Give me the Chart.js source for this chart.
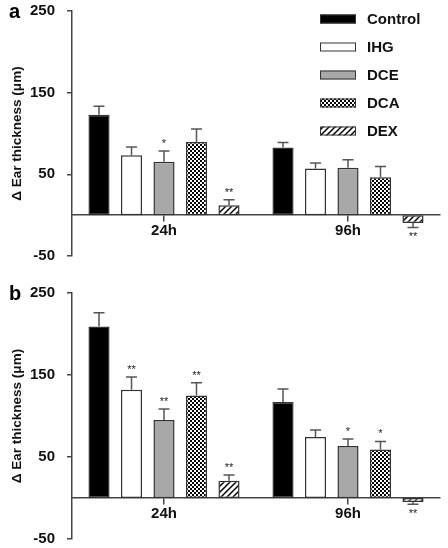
<!DOCTYPE html>
<html>
<head>
<meta charset="utf-8">
<script src="https://cdn.jsdelivr.net/npm/chart.js@4.4.1/dist/chart.umd.min.js"></script>
<style>
  html, body { margin: 0; padding: 0; background: #fff; }
  .panel { position: absolute; left: 0; width: 448px; height: 274px; }
  #panelA { top: 0; }
  #panelB { top: 274px; }
</style>
</head>
<body>
<div class="panel" id="panelA"><canvas id="chartA" width="448" height="274"></canvas></div>
<div class="panel" id="panelB"><canvas id="chartB" width="448" height="274"></canvas></div>
<script>
// --- data ---
const categories = ['24h', '96h'];
const seriesNames = ['Control', 'IHG', 'DCE', 'DCA', 'DEX'];
const yTicks = [-50, 50, 150, 250];
const yTitle = '\u0394 Ear thickness (\u03bcm)';

// panel a
const aControl = [123, 83];
const aIHG = [73.5, 57];
const aDCE = [65.5, 58];
const aDCA = [89.5, 46.5];
const aDEX = [12, -9.5];
const aControlErr = [10.5, 6];
const aIHGErr = [10, 7];
const aDCEErr = [13, 10];
const aDCAErr = [16, 13];
const aDEXErr = [7, 5.5];
const aControlSig = ['', ''];
const aIHGSig = ['', ''];
const aDCESig = ['*', ''];
const aDCASig = ['', ''];
const aDEXSig = ['**', '**'];

// panel b
const bControl = [209, 117];
const bIHG = [132, 74.5];
const bDCE = [95, 63.5];
const bDCA = [125, 59];
const bDEX = [21, -5];
const bControlErr = [17, 16];
const bIHGErr = [15.5, 8.5];
const bDCEErr = [13.5, 8.5];
const bDCAErr = [15.5, 10];
const bDEXErr = [7, 2.5];
const bControlSig = ['', ''];
const bIHGSig = ['**', ''];
const bDCESig = ['**', '*'];
const bDCASig = ['**', '*'];
const bDEXSig = ['**', '**'];

const FONT = '"Liberation Sans", Arial, Helvetica, sans-serif';
const AXIS = '#444';
const EDGE = '#333';

// fill patterns for DCA (checks) and DEX (hatch)
function checkPattern() {
    const c = document.createElement('canvas');
    c.width = 4; c.height = 4;
    const g = c.getContext('2d');
    g.fillStyle = '#fff'; g.fillRect(0, 0, 4, 4);
    g.fillStyle = '#000';
    g.fillRect(0, 0, 2, 2);
    g.fillRect(2, 2, 2, 2);
    return g.createPattern(c, 'repeat');
}
function hatchPattern() {
    const c = document.createElement('canvas');
    c.width = 6; c.height = 6;
    const g = c.getContext('2d');
    g.fillStyle = '#fff'; g.fillRect(0, 0, 6, 6);
    g.strokeStyle = '#000';
    g.lineWidth = 1.5;
    g.beginPath();
    g.moveTo(-1, 7); g.lineTo(7, -1);
    g.moveTo(-4, 4); g.lineTo(4, -4);
    g.moveTo(2, 10); g.lineTo(10, 2);
    g.stroke();
    return g.createPattern(c, 'repeat');
}
const fills = ['#000', '#fff', '#a8a8a8', checkPattern(), hatchPattern()];

function makeDatasets(values, errs, sigs) {
    return seriesNames.map((name, i) => ({
        label: name,
        data: values[i],
        errors: errs[i],
        marks: sigs[i],
        backgroundColor: fills[i],
        borderColor: EDGE,
        borderWidth: 1.5,
        borderSkipped: false,
        categoryPercentage: 0.883,
        barPercentage: 0.65
    }));
}

// error bars + significance stars
const errorBars = {
    id: 'errorBars',
    afterDatasetsDraw(chart) {
        const ctx = chart.ctx;
        const y = chart.scales.y;
        ctx.save();
        chart.data.datasets.forEach((ds, di) => {
            const meta = chart.getDatasetMeta(di);
            meta.data.forEach((bar, j) => {
                const v = ds.data[j];
                const dir = v < 0 ? -1 : 1;
                const end = y.getPixelForValue(v + dir * ds.errors[j]);
                ctx.strokeStyle = '#555';
                ctx.lineWidth = 1.5;
                ctx.beginPath();
                ctx.moveTo(bar.x, bar.y);
                ctx.lineTo(bar.x, end);
                ctx.moveTo(bar.x - 5.5, end);
                ctx.lineTo(bar.x + 5.5, end);
                ctx.stroke();
                if (ds.marks[j]) {
                    ctx.fillStyle = '#222';
                    ctx.font = '11px ' + FONT;
                    ctx.textAlign = 'center';
                    ctx.textBaseline = 'middle';
                    ctx.fillText(ds.marks[j], bar.x, dir > 0 ? end - 7 : end + 10);
                }
            });
        });
        ctx.restore();
    }
};

// panel letter and (optional) legend box
const extras = {
    id: 'extras',
    afterDraw(chart, args, opts) {
        const ctx = chart.ctx;
        ctx.save();
        ctx.fillStyle = '#000';
        ctx.font = 'bold 20px ' + FONT;
        ctx.textAlign = 'left';
        ctx.textBaseline = 'middle';
        ctx.fillText(opts.letter, opts.letterX, opts.letterY);
        if (opts.legend) {
            chart.data.datasets.forEach((ds, i) => {
                const cy = 19 + i * 28;
                ctx.fillStyle = ds.backgroundColor;
                ctx.fillRect(320, cy - 4.5, 36, 9);
                ctx.strokeStyle = EDGE;
                ctx.lineWidth = 1;
                ctx.strokeRect(320.5, cy - 4, 35, 8);
                ctx.fillStyle = '#111';
                ctx.font = 'bold 15px ' + FONT;
                ctx.fillText(ds.label, 367, cy + 1);
            });
        }
        ctx.restore();
    }
};

function buildChart(canvasId, datasets, padTop, padBottom, letter, letterY, legend) {
    return new Chart(document.getElementById(canvasId), {
        type: 'bar',
        data: { labels: categories, datasets: datasets },
        plugins: [errorBars, extras],
        options: {
            responsive: false,
            animation: false,
            layout: { padding: { top: padTop, bottom: padBottom, left: 0, right: 8 } },
            plugins: {
                legend: { display: false },
                tooltip: { enabled: false },
                extras: { letter: letter, letterX: 9, letterY: letterY, legend: legend }
            },
            scales: {
                x: {
                    position: { y: 0 },
                    border: { color: AXIS, width: 1.5 },
                    grid: { offset: false, drawOnChartArea: false, drawTicks: true, tickLength: 6, color: AXIS, lineWidth: 1.5 },
                    ticks: { color: '#111', font: { family: FONT, size: 15, weight: 'bold' }, padding: 1 },
                    afterFit: s => { s.paddingTop = 0; s.paddingBottom = 0; }
                },
                y: {
                    min: -50,
                    max: 250,
                    afterBuildTicks: s => { s.ticks = yTicks.map(v => ({ value: v })); },
                    afterFit: s => { s.width = 72; s.paddingTop = 0; s.paddingBottom = 0; },
                    border: { color: AXIS, width: 1.5 },
                    grid: { drawOnChartArea: false, drawTicks: true, tickLength: 5, color: AXIS, lineWidth: 1.5 },
                    ticks: { color: '#111', font: { family: FONT, size: 15, weight: 'bold' }, padding: 12 },
                    title: {
                        display: true,
                        text: yTitle,
                        color: '#111',
                        font: { family: FONT, size: 13.5, weight: 'bold' },
                        padding: { top: 9, bottom: 0 }
                    }
                }
            }
        }
    });
}

buildChart('chartA',
    makeDatasets([aControl, aIHG, aDCE, aDCA, aDEX],
                 [aControlErr, aIHGErr, aDCEErr, aDCAErr, aDEXErr],
                 [aControlSig, aIHGSig, aDCESig, aDCASig, aDEXSig]),
    11, 18, 'a', 12, true);

buildChart('chartB',
    makeDatasets([bControl, bIHG, bDCE, bDCA, bDEX],
                 [bControlErr, bIHGErr, bDCEErr, bDCAErr, bDEXErr],
                 [bControlSig, bIHGSig, bDCESig, bDCASig, bDEXSig]),
    19, 9, 'b', 20, false);
</script>
</body>
</html>
